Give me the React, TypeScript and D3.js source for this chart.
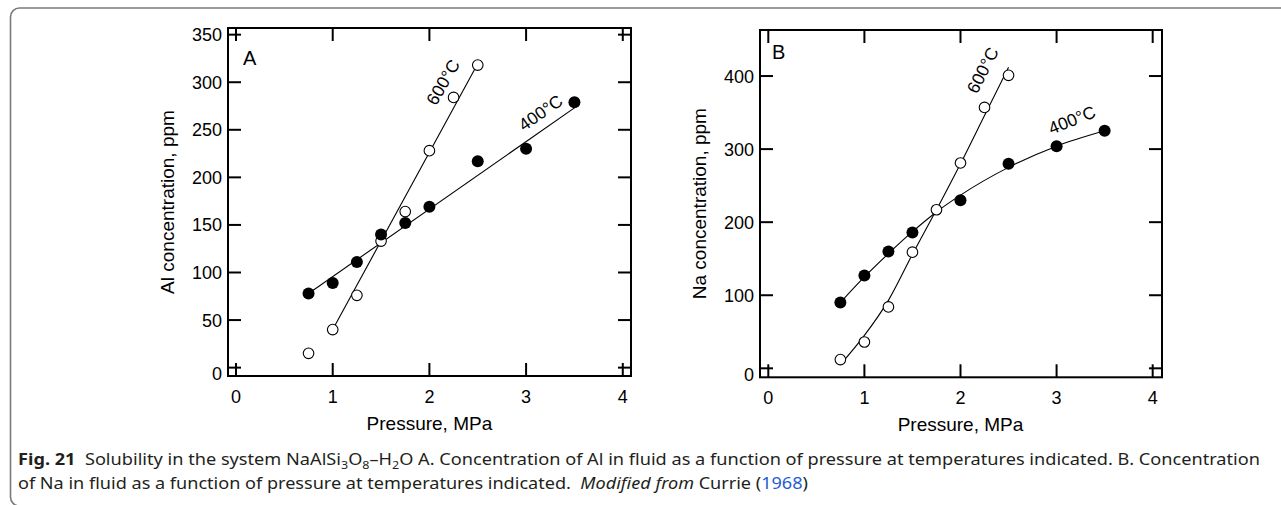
import React from 'react';
import * as d3 from 'd3';

// ---------- data ----------
const xTickValues = [0, 1, 2, 3, 4];
const yTicksA = [0, 50, 100, 150, 200, 250, 300, 350];
const yTicksB = [0, 100, 200, 300, 400];

// Panel A: Al concentration
const pressA400 = [0.75, 1.0, 1.25, 1.5, 1.75, 2.0, 2.5, 3.0, 3.5];
const alA400 = [78, 89, 111, 140, 152, 169, 217, 230, 279];
const pressA600 = [0.75, 1.0, 1.25, 1.5, 1.75, 2.0, 2.25, 2.5];
const alA600 = [15, 40, 76, 133, 164, 228, 284, 318];
const fitA400P = [0.75, 3.5];
const fitA400V = [78, 273];
const fitA600P = [1.0, 2.47];
const fitA600V = [40, 314];

// Panel B: Na concentration
const pressB400 = [0.75, 1.0, 1.25, 1.5, 2.0, 2.5, 3.0, 3.5];
const naB400 = [90, 127, 160, 186, 230, 280, 304, 325];
const pressB600 = [0.75, 1.0, 1.25, 1.5, 1.75, 2.0, 2.25, 2.5];
const naB600 = [12, 36, 84, 159, 217, 281, 357, 401];
const fitB400P = [0.75, 1.0, 1.25, 1.5, 1.75, 2.0, 2.5, 3.0, 3.5];
const fitB400V = [90, 125, 157, 187, 214, 237, 275, 304, 325];
const fitB600P = [0.75, 1.0, 1.25, 1.5, 1.75, 2.0, 2.25, 2.5];
const fitB600V = [5, 45, 93, 156, 217, 280, 346, 412];

const FONT = "'Liberation Sans', Arial, Helvetica, sans-serif";
const CAP_FONT = "'Noto Sans', 'Open Sans', sans-serif";
const TICK = 13;

type Pt = [number, number];
const zip = (a: number[], b: number[]): Pt[] => a.map((v, i) => [v, b[i]] as Pt);

interface PanelProps {
  left: number; right: number; top: number; bottom: number;
  xDomain: [number, number]; yDomain: [number, number];
  yTicks: number[];
  letter: string; letterDx: number; letterDy: number;
  yTitle: string;
  filled: Pt[]; open: Pt[];
  fit400: Pt[]; fit600: Pt[];
  curve: d3.CurveFactory;
  label600: { p: number; v: number; angle: number };
  label400: { p: number; v: number; angle: number };
}

function Panel(p: PanelProps) {
  const x = d3.scaleLinear().domain(p.xDomain).range([p.left, p.right]);
  const y = d3.scaleLinear().domain(p.yDomain).range([p.bottom, p.top]);
  const line = d3.line<Pt>().x(d => x(d[0])).y(d => y(d[1])).curve(p.curve);
  return (
    <g fontFamily={FONT} fill="#000">
      <path d={line(p.fit400) || ''} fill="none" stroke="#000" strokeWidth={1.1} />
      <path d={line(p.fit600) || ''} fill="none" stroke="#000" strokeWidth={1.1} />
      {p.open.map((d, i) => (
        <circle key={'o' + i} cx={x(d[0])} cy={y(d[1])} r={5.3} fill="#fff" stroke="#000" strokeWidth={1.1} />
      ))}
      {p.filled.map((d, i) => (
        <circle key={'f' + i} cx={x(d[0])} cy={y(d[1])} r={6} fill="#000" />
      ))}
      <rect x={p.left} y={p.top} width={p.right - p.left} height={p.bottom - p.top}
        fill="none" stroke="#000" strokeWidth={2} />
      {xTickValues.map(t => (
        <g key={'x' + t}>
          <line x1={x(t)} x2={x(t)} y1={p.bottom} y2={p.bottom - TICK} stroke="#000" strokeWidth={2} />
          <line x1={x(t)} x2={x(t)} y1={p.top} y2={p.top + TICK} stroke="#000" strokeWidth={2} />
          <text x={x(t)} y={p.bottom + 27} textAnchor="middle" fontSize={18}>{t}</text>
        </g>
      ))}
      {p.yTicks.map(t => (
        <g key={'y' + t}>
          <line x1={p.left} x2={p.left + TICK} y1={y(t)} y2={y(t)} stroke="#000" strokeWidth={2} />
          <line x1={p.right} x2={p.right - TICK} y1={y(t)} y2={y(t)} stroke="#000" strokeWidth={2} />
          <text x={p.left - 6} y={y(t)} dy={t === 0 ? '0.7em' : '0.36em'} textAnchor="end" fontSize={18}>{t}</text>
        </g>
      ))}
      <text x={p.left + p.letterDx} y={p.top + p.letterDy} fontSize={20}>{p.letter}</text>
      <text transform={`translate(${p.left - 54},${(p.top + p.bottom) / 2}) rotate(-90)`}
        textAnchor="middle" fontSize={19}>{p.yTitle}</text>
      <text x={x(2)} y={p.bottom + 54} textAnchor="middle" fontSize={19}>Pressure, MPa</text>
      <text transform={`translate(${x(p.label600.p)},${y(p.label600.v)}) rotate(${-p.label600.angle})`}
        textAnchor="middle" dy="0.35em" fontSize={17.5}>600°C</text>
      <text transform={`translate(${x(p.label400.p)},${y(p.label400.v)}) rotate(${-p.label400.angle})`}
        textAnchor="middle" dy="0.35em" fontSize={17.5}>400°C</text>
    </g>
  );
}

export default function App() {
  return (
    <svg width={1281} height={505} style={{ position: 'absolute', left: 0, top: 0, background: '#fff' }}>
      <rect x={0} y={0} width={1281} height={505} fill="#fff" />
      <rect x={10.5} y={8} width={1300} height={498} rx={9} ry={9} fill="none" stroke="#7a7a7a" strokeWidth={1.6} />
      <Panel
        left={228} right={631} top={28} bottom={376}
        xDomain={[-0.083, 4.085]} yDomain={[-8.8, 357]}
        yTicks={yTicksA}
        letter="A" letterDx={15} letterDy={37}
        yTitle="Al concentration, ppm"
        filled={zip(pressA400, alA400)} open={zip(pressA600, alA600)}
        fit400={zip(fitA400P, fitA400V)} fit600={zip(fitA600P, fitA600V)}
        curve={d3.curveLinear}
        label600={{ p: 2.14, v: 300, angle: 60 }}
        label400={{ p: 3.15, v: 268, angle: 35 }}
      />
      <Panel
        left={760} right={1162} top={30} bottom={377.3}
        xDomain={[-0.0864, 4.097]} yDomain={[-12.3, 463]}
        yTicks={yTicksB}
        letter="B" letterDx={12} letterDy={29}
        yTitle="Na concentration, ppm"
        filled={zip(pressB400, naB400)} open={zip(pressB600, naB600)}
        fit400={zip(fitB400P, fitB400V)} fit600={zip(fitB600P, fitB600V)}
        curve={d3.curveMonotoneX}
        label600={{ p: 2.23, v: 408, angle: 63 }}
        label400={{ p: 3.16, v: 340, angle: 22 }}
      />
      <g fontFamily={CAP_FONT} fill="#231f20" fontSize={16}>
        <text x={18} y={465} textLength={1242} lengthAdjust="spacingAndGlyphs">
          <tspan fontWeight="bold">Fig. 21</tspan>
          <tspan>{'\u00a0\u00a0Solubility in the system NaAlSi'}</tspan>
          <tspan fontSize={11} dy={4}>3</tspan>
          <tspan dy={-4}>O</tspan>
          <tspan fontSize={11} dy={4}>8</tspan>
          <tspan dy={-4}>–H</tspan>
          <tspan fontSize={11} dy={4}>2</tspan>
          <tspan dy={-4}>O A. Concentration of Al in fluid as a function of pressure at temperatures indicated. B. Concentration</tspan>
        </text>
        <text x={18} y={489} textLength={790} lengthAdjust="spacingAndGlyphs">
          <tspan>{'of Na in fluid as a function of pressure at temperatures indicated.\u00a0\u00a0'}</tspan>
          <tspan fontStyle="italic">Modified from</tspan>
          <tspan> Currie (</tspan>
          <tspan fill="#1f5bd6">1968</tspan>
          <tspan>)</tspan>
        </text>
      </g>
    </svg>
  );
}
